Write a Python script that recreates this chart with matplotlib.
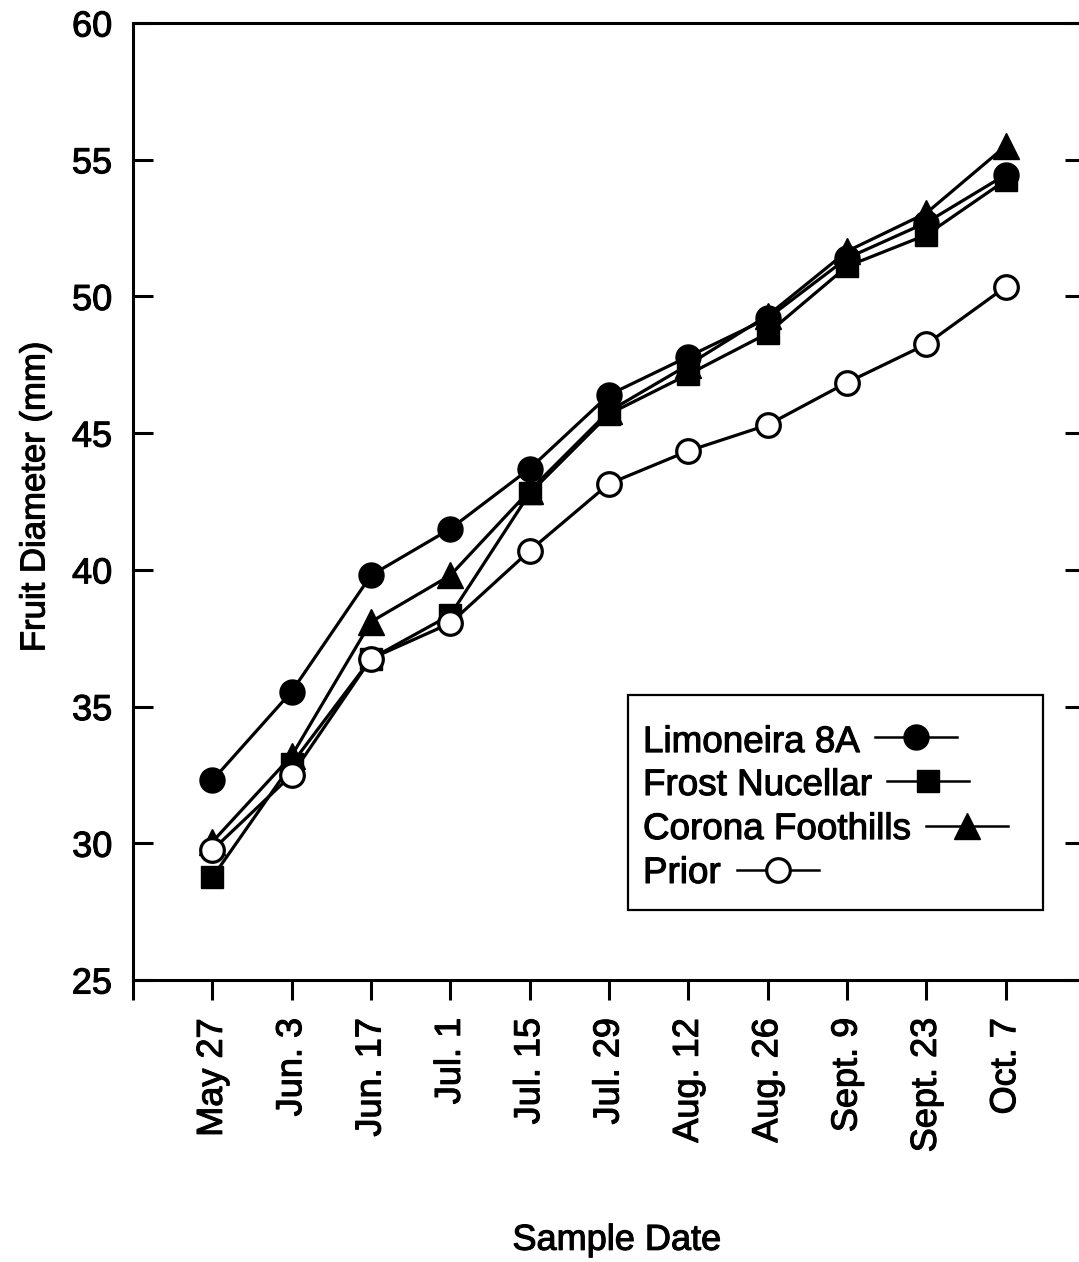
import matplotlib
matplotlib.use("Agg")
import matplotlib.pyplot as plt
import matplotlib.lines as mlines
import matplotlib.patheffects as pe
from matplotlib.patches import Rectangle

plt.rcParams["font.family"] = ["Liberation Sans", "DejaVu Sans"]

# Data
dates = ["May 27", "Jun. 3", "Jun. 17", "Jul. 1", "Jul. 15", "Jul. 29",
         "Aug. 12", "Aug. 26", "Sept. 9", "Sept. 23", "Oct. 7"]
limoneira = [32.3, 35.55, 39.8, 41.5, 43.7, 46.4, 47.8, 49.2, 51.4, 52.7, 54.45]
frost = [28.75, 32.9, 36.75, 38.35, 42.8, 45.7, 47.15, 48.65, 51.1, 52.25, 54.25]
corona = [30.05, 33.2, 38.1, 39.8, 42.9, 45.8, 47.5, 49.3, 51.65, 53.05, 55.5]
prior = [29.75, 32.5, 36.75, 38.05, 40.7, 43.15, 44.35, 45.3, 46.85, 48.25, 50.35]

series_names = ["Limoneira 8A", "Frost Nucellar", "Corona Foothills", "Prior"]
series_values = [limoneira, frost, corona, prior]
styles = {
    "Limoneira 8A": dict(marker="o", markersize=18, markerfacecolor="black", markeredgewidth=1),
    "Frost Nucellar": dict(marker="s", markersize=16, markerfacecolor="black", markeredgewidth=1),
    "Corona Foothills": dict(marker="^", markersize=19, markerfacecolor="black", markeredgewidth=1),
    "Prior": dict(marker="o", markersize=17, markerfacecolor="white", markeredgewidth=2.3),
}
draw_order = ["Frost Nucellar", "Limoneira 8A", "Corona Foothills", "Prior"]

# scanned print looks a little heavier than plain regular weight
heavy = [pe.withStroke(linewidth=0.8, foreground="black")]

fig = plt.figure(figsize=(10.79, 12.62), dpi=100)
ax = fig.add_axes([133 / 1079, 1 - 980 / 1262, 952 / 1079, 957 / 1262])

x = list(range(len(dates)))
for name in draw_order:
    vals = series_values[series_names.index(name)]
    ax.plot(x, vals, color="black", lw=2.3, markeredgecolor="black",
            clip_on=False, **styles[name])

ax.set_xlim(-1, 11)
ax.set_ylim(25, 60)
ax.set_yticks([25, 30, 35, 40, 45, 50, 55, 60])
ax.set_xticks([-1] + x)
ax.set_xticklabels([""] + dates, rotation=90)

for side in ["left", "right", "top", "bottom"]:
    ax.spines[side].set_linewidth(2.2)
ax.tick_params(axis="y", which="both", direction="in", length=14.4, width=2.2,
               labelsize=26, pad=15, right=True, left=True)
ax.tick_params(axis="x", direction="out", length=14.4, width=2.2,
               labelsize=26, pad=13, top=False)

ax.set_ylabel("Fruit Diameter (mm)", fontsize=25, va="center", ha="center")
ax.yaxis.set_label_coords(-0.103, 0.505)
ax.set_xlabel("Sample Date", fontsize=26, va="center", ha="center")
ax.xaxis.set_label_coords(0.508, -0.272)

for lbl in ax.get_xticklabels() + ax.get_yticklabels() + [ax.xaxis.label, ax.yaxis.label]:
    lbl.set_path_effects(heavy)

# Legend drawn by hand: label text followed by its line/marker key
ax.add_patch(Rectangle((0.52, 0.0731), 0.436, 0.2247, transform=ax.transAxes,
                       fill=False, lw=1.6, ec="black", zorder=5))
baselines = [0.2382, 0.1933, 0.1473, 0.1014]
centers = [0.2539, 0.2079, 0.1609, 0.1150]
texts = []
for name, yb in zip(series_names, baselines):
    texts.append(ax.text(0.5357, yb, name, transform=ax.transAxes, fontsize=26.5,
                         va="baseline", ha="left", zorder=6, path_effects=heavy))

fig.canvas.draw()
renderer = fig.canvas.get_renderer()
inv = ax.transAxes.inverted()
for name, t, yc in zip(series_names, texts, centers):
    bb = t.get_window_extent(renderer)
    x0 = inv.transform((bb.x1 + 16, bb.y0))[0]
    x1 = inv.transform((bb.x1 + 98, bb.y0))[0]
    ax.add_line(mlines.Line2D([x0, x1], [yc, yc], transform=ax.transAxes,
                              color="black", lw=1.8, zorder=6))
    ax.add_line(mlines.Line2D([(x0 + x1) / 2], [yc], transform=ax.transAxes,
                              color="black", lw=0, markeredgecolor="black",
                              zorder=7, **styles[name]))

fig.savefig("out.png", dpi=100)
